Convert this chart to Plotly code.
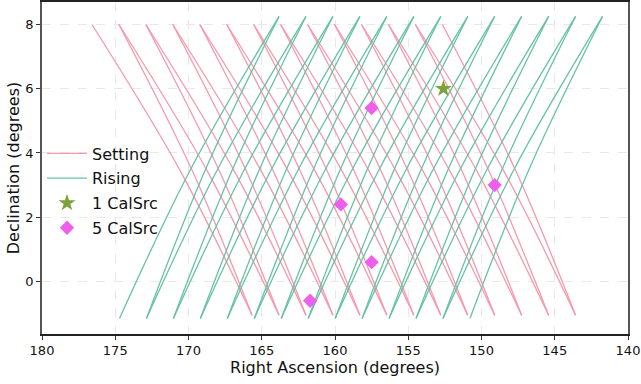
import plotly.graph_objects as go

# ---------------- data ----------------
# Setting scans: start RA at Dec 8.0, end RA at Dec -1.05
set_top_ra = [176.59, 174.75, 172.91, 171.07, 169.23, 167.39, 165.55,
              163.71, 161.87, 160.03, 158.19, 156.35, 154.51, 152.67]
set_bot_ra = [165.66, 163.82, 161.98, 160.14, 158.30, 156.46, 154.62,
              152.78, 150.94, 149.10, 147.26, 145.42, 143.58]
# RA at mid declination for the two setting families
set_midA_ra = [170.60, 168.76, 166.92, 165.08, 163.24, 161.40, 159.56,
               157.72, 155.88, 154.04, 152.20, 150.36, 148.52]
set_midB_ra = [169.77, 167.93, 166.09, 164.25, 162.41, 160.57, 158.73,
               156.89, 155.05, 153.21, 151.37, 149.53, 147.69]
set_dec = [8.0, 3.475, -1.05]

# Rising scans: start RA at Dec -1.15, end RA at Dec 8.25
rise_bot_ra = [174.71, 172.87, 171.03, 169.19, 167.35, 165.51, 163.67,
               161.83, 159.99, 158.15, 156.31, 154.47, 152.63, 150.79]
rise_top_ra = [163.82, 161.98, 160.14, 158.30, 156.46, 154.62, 152.78,
               150.94, 149.10, 147.26, 145.42, 143.58, 141.74]
rise_midA_ra = [169.79, 167.95, 166.11, 164.27, 162.43, 160.59, 158.75,
                156.91, 155.07, 153.23, 151.39, 149.55, 147.71]
rise_midB_ra = [168.78, 166.94, 165.10, 163.26, 161.42, 159.58, 157.74,
                155.90, 154.06, 152.22, 150.38, 148.54, 146.70]
rise_dec = [-1.15, 3.55, 8.25]

# Calibration sources
cal1_ra = [152.6]
cal1_dec = [6.0]
cal5_ra = [157.5, 159.6, 149.1, 157.5, 161.7]
cal5_dec = [5.4, 2.4, 3.0, 0.6, -0.6]

x_ticks = [180, 175, 170, 165, 160, 155, 150, 145, 140]
y_ticks = [0, 2, 4, 6, 8]

# ---------------- styles ----------------
PINK = "#F599AB"
GREEN = "#66C2A5"
FONT = "DejaVu Sans"

fig = go.Figure()

first = True
for i in range(len(set_bot_ra)):
    for ra in ([set_top_ra[i], set_midA_ra[i], set_bot_ra[i]],
               [set_top_ra[i + 1], set_midB_ra[i], set_bot_ra[i]]):
        fig.add_trace(go.Scatter(
            x=ra, y=set_dec, mode="lines",
            line=dict(color=PINK, width=1.3, shape="spline"),
            name="Setting", legendgroup="set", showlegend=first))
        first = False

first = True
for i in range(len(rise_top_ra)):
    for ra in ([rise_bot_ra[i], rise_midA_ra[i], rise_top_ra[i]],
               [rise_bot_ra[i + 1], rise_midB_ra[i], rise_top_ra[i]]):
        fig.add_trace(go.Scatter(
            x=ra, y=rise_dec, mode="lines",
            line=dict(color=GREEN, width=1.3, shape="spline"),
            name="Rising", legendgroup="rise", showlegend=first))
        first = False

fig.add_trace(go.Scatter(
    x=cal1_ra, y=cal1_dec, mode="markers", name="1 CalSrc", legendgroup="c1",
    marker=dict(symbol="star", size=13, color="#7CA33B", line=dict(width=0))))
fig.add_trace(go.Scatter(
    x=cal5_ra, y=cal5_dec, mode="markers", name="5 CalSrc", legendgroup="c5",
    marker=dict(symbol="diamond", size=11, color="#EE5FEE", line=dict(width=0))))

axis_common = dict(
    showgrid=True, gridcolor="#e8e8e8", griddash="dash", gridwidth=1,
    ticks="outside", ticklen=4, tickcolor="#333", tickwidth=1,
    tickfont=dict(family=FONT, size=13, color="#111"),
    showline=True, mirror=True, zeroline=False,
)

fig.update_layout(
    width=641, height=384,
    margin=dict(l=42, r=13, t=2, b=50, autoexpand=False),
    paper_bgcolor="white", plot_bgcolor="white",
    font=dict(family=FONT, color="#111"),
    xaxis=dict(range=[180, 140], tickvals=x_ticks,
               ticktext=[str(v) for v in x_ticks],
               linecolor="#222", linewidth=1.5,
               title=dict(text="Right Ascension (degrees)",
                          font=dict(family=FONT, size=16), standoff=4),
               automargin=False, **axis_common),
    yaxis=dict(range=[-1.635, 8.70], tickvals=y_ticks,
               ticktext=[str(v) for v in y_ticks],
               linecolor="#555", linewidth=1.5,
               title=dict(text="Declination (degrees)",
                          font=dict(family=FONT, size=16), standoff=2),
               automargin=False, **axis_common),
    legend=dict(x=0.0, y=0.595, xanchor="left", yanchor="top",
                bgcolor="rgba(0,0,0,0)", borderwidth=0,
                font=dict(family=FONT, size=16, color="#111"),
                tracegroupgap=1, itemwidth=40),
    showlegend=True,
)

fig.write_html("out.html")
